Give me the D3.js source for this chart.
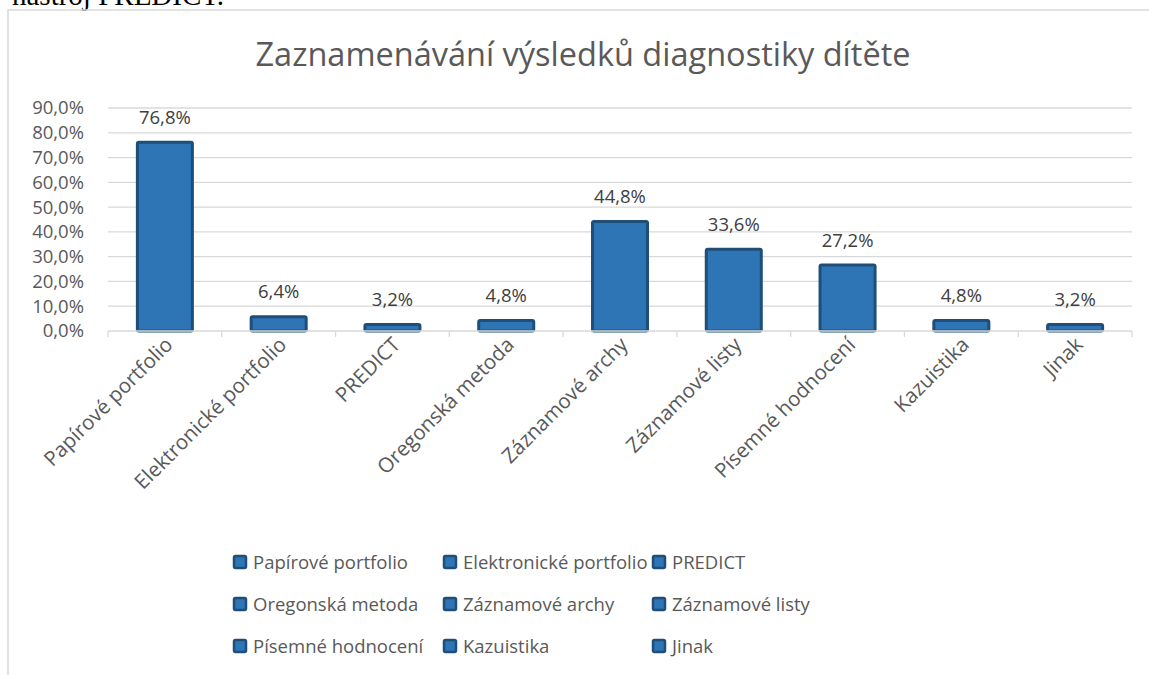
<!DOCTYPE html>
<html>
<head>
<meta charset="utf-8">
<script src="https://cdn.jsdelivr.net/npm/d3@7"></script>
<style>
  html, body { margin: 0; padding: 0; background: #fff; }
  svg { display: block; }
</style>
</head>
<body>
<div id="chart"></div>
<script>
// Data
const categories = ["Papírové portfolio", "Elektronické portfolio", "PREDICT", "Oregonská metoda",
  "Záznamové archy", "Záznamové listy", "Písemné hodnocení", "Kazuistika", "Jinak"];
const values = [76.8, 6.4, 3.2, 4.8, 44.8, 33.6, 27.2, 4.8, 3.2];
const yTicks = [0, 10, 20, 30, 40, 50, 60, 70, 80, 90];

const W = 1149, H = 675;
const plot = { left: 108, right: 1132, top: 108, bottom: 331 };

const fmt = v => v.toFixed(1).replace(".", ",") + "%";
const font = "'Open Sans', 'DejaVu Sans', sans-serif";

const svg = d3.select("#chart").append("svg")
  .attr("width", W).attr("height", H)
  .style("font-family", font);

// text from the page above the chart (cut off in the original too)
svg.append("text")
  .attr("x", 12).attr("y", 5)
  .attr("font-family", "'Liberation Serif', 'Times New Roman', serif")
  .attr("font-size", 29).attr("fill", "#000")
  .text("nástroj PREDICT.");

// chart frame
svg.append("path")
  .attr("d", `M8,${H + 2}V10H${W + 2}`)
  .attr("fill", "none").attr("stroke", "#d9d9d9").attr("stroke-width", 1.5);

// title
svg.append("text")
  .attr("x", 583).attr("y", 66)
  .attr("text-anchor", "middle")
  .attr("font-size", 32.5).attr("fill", "#595959")
  .text("Zaznamenávání výsledků diagnostiky dítěte");

const x = d3.scaleBand().domain(categories)
  .range([plot.left, plot.right]).paddingInner(0.49).paddingOuter(0.245);
const y = d3.scaleLinear().domain([0, 90]).range([plot.bottom, plot.top]);

// gridlines
svg.append("g").selectAll("line").data(yTicks.filter(d => d > 0)).join("line")
  .attr("x1", plot.left).attr("x2", plot.right)
  .attr("y1", d => y(d)).attr("y2", d => y(d))
  .attr("stroke", "#d9d9d9").attr("stroke-width", 1.3);

// y axis labels
const yAxis = svg.append("g")
  .attr("transform", `translate(${plot.left},0)`)
  .call(d3.axisLeft(y).tickValues(yTicks).tickFormat(fmt).tickSize(0).tickPadding(24));
yAxis.select(".domain").remove();
yAxis.selectAll("text").attr("font-family", font).attr("font-size", 18.5).attr("fill", "#595959");

// bars
svg.append("g").selectAll("rect").data(values).join("rect")
  .attr("x", (d, i) => x(categories[i]) + 1.5)
  .attr("y", d => y(d) + 1.5)
  .attr("width", x.bandwidth() - 3)
  .attr("height", d => y(0) - y(d) - 1.5)
  .attr("rx", 1.5)
  .attr("fill", "#2e75b6").attr("stroke", "#1f4e79").attr("stroke-width", 3);

// x axis line + ticks at category boundaries
const step = x.step();
svg.append("line")
  .attr("x1", plot.left).attr("x2", plot.right)
  .attr("y1", y(0)).attr("y2", y(0))
  .attr("stroke", "#d9d9d9").attr("stroke-width", 1.3);
svg.append("g").selectAll("line").data(d3.range(categories.length + 1)).join("line")
  .attr("x1", i => plot.left + i * step).attr("x2", i => plot.left + i * step)
  .attr("y1", y(0)).attr("y2", y(0) + 6)
  .attr("stroke", "#d9d9d9").attr("stroke-width", 1.3);

// data labels
svg.append("g").selectAll("text").data(values).join("text")
  .attr("x", (d, i) => x(categories[i]) + x.bandwidth() / 2)
  .attr("y", d => y(d) - 17)
  .attr("text-anchor", "middle")
  .attr("font-size", 18.5).attr("fill", "#404040")
  .text(fmt);

// rotated category labels
svg.append("g").selectAll("text").data(categories).join("text")
  .attr("transform", d => `translate(${x(d) + x.bandwidth() / 2 + 9},${y(0) + 15}) rotate(-45)`)
  .attr("text-anchor", "end")
  .attr("font-size", 20.5).attr("fill", "#595959")
  .text(d => d);

// legend, 3 columns
const legendCols = [233, 443, 652];
const legendRows = [562, 604, 646];
const lg = svg.append("g").selectAll("g").data(categories).join("g")
  .attr("transform", (d, i) => `translate(${legendCols[i % 3]},${legendRows[Math.floor(i / 3)]})`);
lg.append("rect")
  .attr("x", 1).attr("y", -6).attr("width", 12).attr("height", 12).attr("rx", 1.5)
  .attr("fill", "#2e75b6").attr("stroke", "#1f4e79").attr("stroke-width", 2.5);
lg.append("text")
  .attr("x", 20).attr("y", 7)
  .attr("font-size", 18.5).attr("fill", "#595959")
  .text(d => d);
</script>
</body>
</html>
